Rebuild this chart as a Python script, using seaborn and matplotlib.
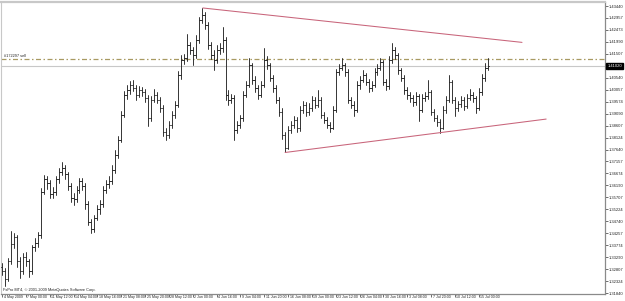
import matplotlib
matplotlib.use("Agg")
import matplotlib.pyplot as plt
import matplotlib.transforms as mtransforms
import pandas as pd
import seaborn as sns

# ---------------- data (EURUSD, one bar = two H4 bars) ----------------
closes = [
    1.3272, 1.3240, 1.3312, 1.3381, 1.3409, 1.3312, 1.3272, 1.3328, 1.3312, 1.3272,
    1.3369, 1.3385, 1.3417, 1.3594, 1.3643, 1.3627, 1.3586, 1.3594, 1.3643, 1.3675,
    1.3691, 1.3663, 1.3618, 1.3570, 1.3562, 1.3602, 1.3635, 1.3618, 1.3542, 1.3473,
    1.3441, 1.3489, 1.3522, 1.3542, 1.3602, 1.3623, 1.3635, 1.3683, 1.3743, 1.3804,
    1.3905, 1.3985, 1.4005, 1.4025, 1.4013, 1.3985, 1.4005, 1.3997, 1.3973, 1.3892,
    1.3965, 1.3985, 1.3965, 1.3933, 1.3836, 1.3824, 1.3864, 1.3905, 1.3945, 1.4066,
    1.4126, 1.4134, 1.4187, 1.4167, 1.4146, 1.4207, 1.4287, 1.4308, 1.4267, 1.4187,
    1.4146, 1.4126, 1.4167, 1.4175, 1.4207, 1.3985, 1.3965, 1.3973, 1.3844, 1.3864,
    1.3892, 1.3985, 1.4025, 1.4106, 1.4046, 1.4013, 1.3985, 1.4025, 1.4126, 1.4106,
    1.4054, 1.4013, 1.3965, 1.3917, 1.3824, 1.3772, 1.3844, 1.3864, 1.3884, 1.3852,
    1.3925, 1.3945, 1.3917, 1.3933, 1.3965, 1.3945, 1.3965, 1.3905, 1.3884, 1.3864,
    1.3852, 1.3925, 1.4078, 1.4094, 1.4106, 1.4078, 1.3965, 1.3945, 1.3925, 1.4025,
    1.4046, 1.4066, 1.4038, 1.4013, 1.4025, 1.4078, 1.4094, 1.4118, 1.4038, 1.4021,
    1.4126, 1.4167, 1.4146, 1.4086, 1.4054, 1.4005, 1.3985, 1.3973, 1.3957, 1.3981,
    1.3925, 1.3973, 1.3981, 1.3997, 1.3917, 1.3892, 1.3876, 1.3852, 1.3925, 1.3965,
    1.4038, 1.3965, 1.3933, 1.3949, 1.3965, 1.3941, 1.3973, 1.3985, 1.3973, 1.3933,
    1.3997, 1.4054, 1.4094, 1.4102,
]
opens = [
    1.3290, 1.3272, 1.3240, 1.3312, 1.3381, 1.3409, 1.3312, 1.3272, 1.3328, 1.3312,
    1.3272, 1.3369, 1.3385, 1.3417, 1.3594, 1.3643, 1.3627, 1.3586, 1.3594, 1.3643,
    1.3675, 1.3691, 1.3663, 1.3618, 1.3570, 1.3562, 1.3602, 1.3635, 1.3618, 1.3542,
    1.3473, 1.3441, 1.3489, 1.3522, 1.3542, 1.3602, 1.3623, 1.3635, 1.3683, 1.3743,
    1.3804, 1.3905, 1.3985, 1.4005, 1.4025, 1.4013, 1.3985, 1.4005, 1.3997, 1.3973,
    1.3892, 1.3965, 1.3985, 1.3965, 1.3933, 1.3836, 1.3824, 1.3864, 1.3905, 1.3945,
    1.4066, 1.4126, 1.4134, 1.4187, 1.4167, 1.4146, 1.4207, 1.4287, 1.4308, 1.4267,
    1.4187, 1.4146, 1.4126, 1.4167, 1.4175, 1.4207, 1.3985, 1.3965, 1.3973, 1.3844,
    1.3864, 1.3892, 1.3985, 1.4025, 1.4106, 1.4046, 1.4013, 1.3985, 1.4025, 1.4126,
    1.4106, 1.4054, 1.4013, 1.3965, 1.3917, 1.3824, 1.3772, 1.3844, 1.3864, 1.3884,
    1.3852, 1.3925, 1.3945, 1.3917, 1.3933, 1.3965, 1.3945, 1.3965, 1.3905, 1.3884,
    1.3864, 1.3852, 1.3925, 1.4078, 1.4094, 1.4106, 1.4078, 1.3965, 1.3945, 1.3925,
    1.4025, 1.4046, 1.4066, 1.4038, 1.4013, 1.4025, 1.4078, 1.4094, 1.4118, 1.4038,
    1.4021, 1.4126, 1.4167, 1.4146, 1.4086, 1.4054, 1.4005, 1.3985, 1.3973, 1.3957,
    1.3981, 1.3925, 1.3973, 1.3981, 1.3997, 1.3917, 1.3892, 1.3876, 1.3852, 1.3925,
    1.3965, 1.4038, 1.3965, 1.3933, 1.3949, 1.3965, 1.3941, 1.3973, 1.3985, 1.3973,
    1.3933, 1.3997, 1.4054, 1.4094,
]
highs = [
    1.3305, 1.3285, 1.3325, 1.3433, 1.3425, 1.3418, 1.3330, 1.3345, 1.3350, 1.3322,
    1.3380, 1.3405, 1.3430, 1.3610, 1.3660, 1.3655, 1.3640, 1.3612, 1.3658, 1.3690,
    1.3715, 1.3700, 1.3675, 1.3630, 1.3590, 1.3618, 1.3650, 1.3648, 1.3628, 1.3555,
    1.3485, 1.3500, 1.3540, 1.3560, 1.3615, 1.3640, 1.3655, 1.3700, 1.3760, 1.3820,
    1.3920, 1.4000, 1.4025, 1.4040, 1.4046, 1.4025, 1.4020, 1.4018, 1.4010, 1.3985,
    1.3980, 1.4010, 1.3995, 1.3975, 1.3945, 1.3850, 1.3878, 1.3920, 1.3960, 1.4080,
    1.4146, 1.4150, 1.4230, 1.4200, 1.4180, 1.4225, 1.4300, 1.4336, 1.4320, 1.4280,
    1.4200, 1.4165, 1.4185, 1.4195, 1.4260, 1.4220, 1.4005, 1.3990, 1.3985, 1.3880,
    1.3905, 1.4000, 1.4040, 1.4134, 1.4115, 1.4060, 1.4025, 1.4040, 1.4175, 1.4140,
    1.4115, 1.4065, 1.4025, 1.3975, 1.3930, 1.3835, 1.3860, 1.3880, 1.3900, 1.3895,
    1.3940, 1.3962, 1.3955, 1.3950, 1.3980, 1.3975, 1.4005, 1.3975, 1.3915, 1.3895,
    1.3875, 1.3940, 1.4090, 1.4110, 1.4134, 1.4115, 1.4090, 1.3975, 1.3960, 1.4040,
    1.4060, 1.4085, 1.4075, 1.4050, 1.4040, 1.4092, 1.4110, 1.4134, 1.4125, 1.4050,
    1.4140, 1.4195, 1.4178, 1.4155, 1.4095, 1.4065, 1.4015, 1.3998, 1.3985, 1.3995,
    1.3990, 1.3988, 1.3995, 1.4046, 1.4005, 1.3928, 1.3905, 1.3888, 1.3938, 1.3980,
    1.4066, 1.4045, 1.3975, 1.3962, 1.3980, 1.3975, 1.3990, 1.4010, 1.3998, 1.3982,
    1.4012, 1.4070, 1.4112, 1.4134,
]
lows = [
    1.3255, 1.3212, 1.3232, 1.3300, 1.3365, 1.3290, 1.3244, 1.3260, 1.3295, 1.3248,
    1.3262, 1.3355, 1.3370, 1.3405, 1.3585, 1.3605, 1.3570, 1.3568, 1.3580, 1.3630,
    1.3660, 1.3645, 1.3600, 1.3552, 1.3540, 1.3550, 1.3590, 1.3600, 1.3525, 1.3460,
    1.3428, 1.3432, 1.3478, 1.3505, 1.3530, 1.3590, 1.3610, 1.3625, 1.3670, 1.3730,
    1.3795, 1.3895, 1.3970, 1.3990, 1.4000, 1.3965, 1.3975, 1.3980, 1.3955, 1.3860,
    1.3880, 1.3955, 1.3950, 1.3915, 1.3820, 1.3804, 1.3812, 1.3850, 1.3890, 1.3935,
    1.4050, 1.4110, 1.4120, 1.4150, 1.4105, 1.4135, 1.4195, 1.4275, 1.4250, 1.4170,
    1.4130, 1.4086, 1.4115, 1.4150, 1.4160, 1.3965, 1.3945, 1.3950, 1.3804, 1.3830,
    1.3850, 1.3880, 1.3975, 1.4015, 1.4030, 1.3995, 1.3968, 1.3975, 1.4015, 1.4090,
    1.4040, 1.3998, 1.3950, 1.3900, 1.3808, 1.3752, 1.3765, 1.3830, 1.3850, 1.3835,
    1.3840, 1.3910, 1.3900, 1.3905, 1.3920, 1.3930, 1.3935, 1.3890, 1.3870, 1.3850,
    1.3836, 1.3845, 1.3915, 1.4065, 1.4085, 1.4060, 1.3950, 1.3930, 1.3900, 1.3915,
    1.4010, 1.4035, 1.4025, 1.3995, 1.4000, 1.4015, 1.4065, 1.4085, 1.4025, 1.4005,
    1.4010, 1.4115, 1.4130, 1.4070, 1.4040, 1.3990, 1.3970, 1.3955, 1.3940, 1.3945,
    1.3880, 1.3915, 1.3960, 1.3970, 1.3905, 1.3878, 1.3860, 1.3832, 1.3845, 1.3912,
    1.3955, 1.3950, 1.3900, 1.3920, 1.3935, 1.3925, 1.3930, 1.3965, 1.3955, 1.3910,
    1.3925, 1.3985, 1.4040, 1.4085,
]

x_tick_pos = [0, 8, 16, 24, 32, 40, 48, 56, 64, 72, 80, 88, 96, 104, 112, 120,
              128, 136, 144, 152, 160]
x_tick_labels = ["4 May 2009", "7 May 00:00", "11 May 12:00", "14 May 04:00",
                 "18 May 16:00", "21 May 08:00", "25 May 20:00", "28 May 12:00",
                 "2 Jun 00:00", "4 Jun 16:00", "9 Jun 04:00", "11 Jun 20:00",
                 "16 Jun 08:00", "19 Jun 00:00", "23 Jun 12:00", "26 Jun 04:00",
                 "30 Jun 16:00", "3 Jul 08:00", "7 Jul 20:00", "10 Jul 12:00",
                 "15 Jul 00:00"]
y_ticks = [1.43440, 1.42957, 1.42473, 1.41990, 1.41507, 1.41023, 1.40540,
           1.40057, 1.39574, 1.39090, 1.38607, 1.38124, 1.37640, 1.37157,
           1.36674, 1.36190, 1.35707, 1.35224, 1.34740, 1.34257, 1.33774,
           1.33290, 1.32807, 1.32324, 1.31840]
# the level under the current-price box shows no label of its own
y_tick_labels = ["1.43440", "1.42957", "1.42473", "1.41990", "1.41507", "",
                 "1.40540", "1.40057", "1.39574", "1.39090", "1.38607", "1.38124",
                 "1.37640", "1.37157", "1.36674", "1.36190", "1.35707", "1.35224",
                 "1.34740", "1.34257", "1.33774", "1.33290", "1.32807", "1.32324",
                 "1.31840"]

bid_price = 1.4102
bid_label = "1.41020"
order_price = 1.4130
order_label = "#172297 sell"
upper_line_x = [67.4, 174.5]
upper_line_y = [1.4336, 1.4197]
lower_line_x = [95.0, 182.6]
lower_line_y = [1.3752, 1.3887]
copyright_text = "FxPro MT4, \u00a9 2001-2009 MetaQuotes Software Corp."

# ---------------- style ----------------
sns.set_theme(style="white")
plt.rcParams["font.family"] = ["Liberation Sans Narrow", "Liberation Sans", "DejaVu Sans"]

W, H = 625, 301
fig = plt.figure(figsize=(W / 100, H / 100), dpi=100)
fig.patch.set_facecolor("white")
ax = fig.add_axes([1 / W, 7 / H, 604 / W, 292 / H])
ax.set_facecolor("white")

# ---------------- OHLC bars via seaborn ----------------
rows = []
for i, (o, h, l, c) in enumerate(zip(opens, highs, lows, closes)):
    rows.append((i, h, f"r{i}"))
    rows.append((i, l, f"r{i}"))
    rows.append((i - 0.45, o, f"o{i}"))
    rows.append((i, o, f"o{i}"))
    rows.append((i, c, f"c{i}"))
    rows.append((i + 0.45, c, f"c{i}"))
bars = pd.DataFrame(rows, columns=["idx", "price", "seg"])
sns.lineplot(data=bars, x="idx", y="price", units="seg", estimator=None,
             color="#262626", linewidth=0.65, ax=ax, legend=False, zorder=3)

# trend lines
sns.lineplot(x=upper_line_x, y=upper_line_y, color="#c8647a", linewidth=0.75,
             ax=ax, zorder=4)
sns.lineplot(x=lower_line_x, y=lower_line_y, color="#c8647a", linewidth=0.75,
             ax=ax, zorder=4)

# order line and bid line
ax.axhline(order_price, color="#a89a62", linewidth=0.9,
           linestyle=(0, (4, 2, 1.2, 2)), zorder=2)
ax.axhline(bid_price, color="#c8c8c8", linewidth=0.8, zorder=1)
ax.text(0.6, order_price + 0.0002, order_label, fontsize=2.8, color="#222222",
        ha="left", va="bottom", zorder=5)

# ---------------- axes ----------------
ax.set_xlim(-0.34, 202.35)
ax.set_ylim(1.31800, 1.43602)
ax.set_xlabel("")
ax.set_ylabel("")

ax.yaxis.tick_right()
ax.set_yticks(y_ticks)
ax.set_yticklabels(y_tick_labels)
ax.set_xticks(x_tick_pos)
ax.set_xticklabels(x_tick_labels)
ax.tick_params(axis="y", which="both", right=True, left=False, length=2.0,
               width=0.6, color="#555555", labelsize=3.0, pad=1.0,
               labelcolor="#222222", direction="out")
ax.tick_params(axis="x", which="both", bottom=True, length=2.0, width=0.6,
               color="#555555", labelsize=2.6, pad=-1.6, labelcolor="#222222",
               direction="out")
offset = mtransforms.ScaledTranslation(1.5 / 100, 0, fig.dpi_scale_trans)
for lab in ax.get_xticklabels():
    lab.set_horizontalalignment("left")
    lab.set_transform(lab.get_transform() + offset)

for side in ["right", "bottom"]:
    ax.spines[side].set_visible(True)
    ax.spines[side].set_color("#8a8a8a")
    ax.spines[side].set_linewidth(0.9)
ax.spines["top"].set_visible(True)
ax.spines["top"].set_color("#c8c8c8")
ax.spines["top"].set_linewidth(1.6)
ax.spines["left"].set_visible(True)
ax.spines["left"].set_color("#c8c8c8")
ax.spines["left"].set_linewidth(0.8)
ax.grid(False)

# current price box
blend = mtransforms.blended_transform_factory(ax.transAxes, ax.transData)
ax.text(1.004, bid_price, bid_label, transform=blend, fontsize=3.0,
        color="white", ha="left", va="center", clip_on=False, zorder=20,
        bbox=dict(boxstyle="square,pad=0.25", facecolor="black",
                  edgecolor="black"))

# copyright
ax.text(0.003, 0.006, copyright_text, transform=ax.transAxes, fontsize=2.8,
        color="#222222", ha="left", va="bottom", zorder=5)

fig.savefig("out.png", dpi=100, facecolor="white")
